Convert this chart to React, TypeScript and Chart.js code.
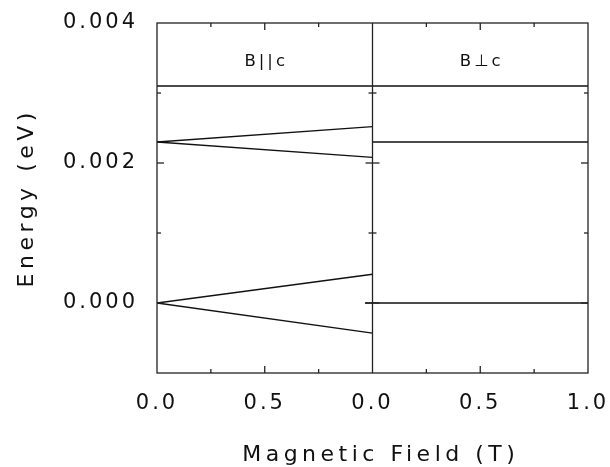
import { useEffect, useRef } from 'react';
import { Chart, registerables } from 'chart.js';

Chart.register(...registerables);

// Magnetic field (T) within each panel
const fieldPar = [0, 1];
const fieldPerp = [0, 1];
const fieldPerpLow = [-0.035, 1];
// Energies (eV), B || c panel
const parUpperRise = [0.0023, 0.00252];
const parUpperFall = [0.0023, 0.00208];
const parLowerRise = [0, 0.00041];
const parLowerFall = [0, -0.00043];
// Energies (eV), B ⊥ c panel
const perpUpper = [0.0023, 0.0023];
const perpLower = [0, 0];
// header separator line (eV), across both panels
const headerField = [0, 2];
const headerEnergy = [0.0031, 0.0031];

const xTickValues = [0, 0.5, 1, 1.5, 2];
const xTickLabels = ['0.0', '0.5', '0.0', '0.5', '1.0'];
const yTickValues = [0, 0.002, 0.004];
const yTickLabels = ['0.000', '0.002', '0.004'];
const panelLabels = ['B||c', 'B\u22A5c'];
const panelLabelEnergy = 0.00344;
const xTitle = 'Magnetic Field (T)';
const yTitle = 'Energy (eV)';

const FONT = '"DejaVu Sans", sans-serif';
const SPACING = '3px';
const TITLE_SPACING = 4.5;
const INK = '#111';

const pts = (xs: number[], ys: number[], offset: number) =>
  xs.map((v, i) => ({ x: v + offset, y: ys[i] }));

const spacingPlugin = {
  id: 'spacing',
  beforeUpdate(chart: any) { chart.ctx.letterSpacing = SPACING; },
  beforeLayout(chart: any) { chart.ctx.letterSpacing = SPACING; },
  beforeDraw(chart: any) { chart.ctx.letterSpacing = SPACING; },
};

const framePlugin = {
  id: 'frame',
  afterDatasetsDraw(chart: any) {
    const { ctx, chartArea: a, scales } = chart;
    const x = scales.x;
    const y = scales.y;
    const line = (x1: number, y1: number, x2: number, y2: number) => {
      ctx.beginPath();
      ctx.moveTo(x1, y1);
      ctx.lineTo(x2, y2);
      ctx.stroke();
    };
    ctx.save();
    ctx.strokeStyle = '#222';
    ctx.lineWidth = 1.3;
    ctx.strokeRect(a.left, a.top, a.right - a.left, a.bottom - a.top);
    const xm = x.getPixelForValue(1);
    line(xm, a.top, xm, a.bottom);
    // x ticks (every 0.25 T, major each 0.5 T)
    for (let k = 1; k < 8; k++) {
      const v = k * 0.25;
      if (v === 1) continue;
      const len = k % 2 === 0 ? 7 : 4;
      const px = x.getPixelForValue(v);
      line(px, a.bottom, px, a.bottom - len);
      line(px, a.top, px, a.top + len);
    }
    // y ticks (every 0.001 eV, major each 0.002)
    for (let k = 0; k < 4; k++) {
      const v = k * 0.001;
      const len = k % 2 === 0 ? 7 : 4;
      const py = y.getPixelForValue(v);
      line(a.left, py, a.left + len, py);
      line(a.right, py, a.right - len, py);
      line(xm - len, py, xm + len, py);
    }
    // panel labels
    ctx.fillStyle = INK;
    ctx.font = '16.5px ' + FONT;
    ctx.letterSpacing = SPACING;
    ctx.textAlign = 'center';
    ctx.textBaseline = 'middle';
    const ly = y.getPixelForValue(panelLabelEnergy);
    ctx.fillText(panelLabels[0], x.getPixelForValue(0.5) + 1.5, ly);
    ctx.fillText(panelLabels[1], x.getPixelForValue(1.5) + 1.5, ly);
    // axis titles
    ctx.font = '22px ' + FONT;
    ctx.letterSpacing = TITLE_SPACING + 'px';
    ctx.textBaseline = 'alphabetic';
    ctx.fillText(xTitle, (a.left + a.right) / 2 + 6 + TITLE_SPACING / 2, 461);
    ctx.translate(33, (a.top + a.bottom) / 2 + 2);
    ctx.rotate(-Math.PI / 2);
    ctx.fillText(yTitle, TITLE_SPACING / 2, 0);
    ctx.restore();
  },
};

export default function App() {
  const ref = useRef<HTMLCanvasElement | null>(null);
  useEffect(() => {
    if (!ref.current) return;
    const ds = (data: { x: number; y: number }[]) => ({
      data,
      borderColor: INK,
      borderWidth: 1.4,
      pointRadius: 0,
      showLine: true,
      tension: 0,
      fill: false,
    });
    const chart = new Chart(ref.current, {
      type: 'line',
      data: {
        datasets: [
          ds(pts(fieldPar, parUpperRise, 0)),
          ds(pts(fieldPar, parUpperFall, 0)),
          ds(pts(fieldPar, parLowerRise, 0)),
          ds(pts(fieldPar, parLowerFall, 0)),
          ds(pts(fieldPerp, perpUpper, 1)),
          ds(pts(fieldPerpLow, perpLower, 1)),
          ds(pts(headerField, headerEnergy, 0)),
        ],
      },
      options: {
        animation: false,
        responsive: true,
        maintainAspectRatio: false,
        layout: { padding: { top: 23, right: 22, left: 0, bottom: 0 } },
        plugins: { legend: { display: false }, tooltip: { enabled: false } },
        scales: {
          x: {
            type: 'linear',
            min: 0,
            max: 2,
            grid: { display: false },
            border: { display: false },
            afterBuildTicks: (s: any) => { s.ticks = xTickValues.map((v) => ({ value: v })); },
            afterFit: (s: any) => {
              s.height = 94;
              s.paddingLeft = 0;
              s.paddingRight = 0;
              s.paddingTop = 0;
              s.paddingBottom = 0;
            },
            ticks: {
              autoSkip: false,
              maxRotation: 0,
              padding: 10,
              color: INK,
              font: { family: FONT, size: 21 },
              callback: (_v: any, i: number) => xTickLabels[i],
            },
            title: { display: false, text: xTitle },
          },
          y: {
            type: 'linear',
            min: -0.001,
            max: 0.004,
            grid: { display: false },
            border: { display: false },
            afterBuildTicks: (s: any) => { s.ticks = yTickValues.map((v) => ({ value: v })); },
            afterFit: (s: any) => {
              s.width = 157;
              s.paddingLeft = 0;
              s.paddingRight = 0;
              s.paddingTop = 0;
              s.paddingBottom = 0;
            },
            ticks: {
              autoSkip: false,
              padding: 11,
              color: INK,
              font: { family: FONT, size: 21 },
              callback: (_v: any, i: number) => yTickLabels[i],
            },
            title: { display: false, text: yTitle },
          },
        },
      } as any,
      plugins: [spacingPlugin, framePlugin],
    });
    return () => chart.destroy();
  }, []);
  return (
    <div style={{ position: 'fixed', left: 0, top: 0, width: 610, height: 467, background: '#fff' }}>
      <canvas ref={ref} />
    </div>
  );
}
